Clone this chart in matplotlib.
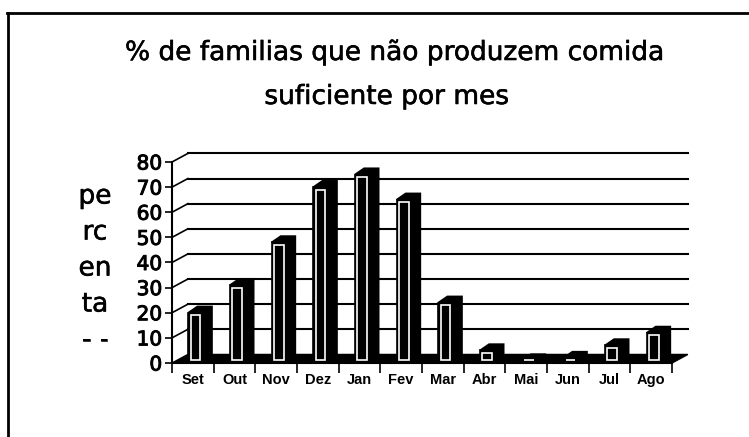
import numpy as np
import matplotlib.pyplot as plt
import matplotlib.patheffects as pe
from matplotlib.patches import Polygon
from matplotlib.lines import Line2D

plt.rcParams.update({
    "font.family": "DejaVu Sans",
    "text.color": "black",
})

# ── Data ──────────────────────────────────────────────────────────────────────
months = ["Set", "Out", "Nov", "Dez", "Jan", "Fev", "Mar", "Abr", "Mai", "Jun", "Jul", "Ago"]
percent = [20, 31, 48, 70, 75, 65, 24, 5, 1, 2, 7, 12]
yticks = [0, 10, 20, 30, 40, 50, 60, 70, 80]
title_lines = ["% de familias que não produzem comida", "suficiente por mes"]
ylabel_text = "pe\nrc\nen\nta\n- -"

# slight stroke to mimic the heavier scanned type
THICK = [pe.withStroke(linewidth=0.4, foreground="black")]

# ── Figure / axes ─────────────────────────────────────────────────────────────
W, H = 749, 437
fig = plt.figure(figsize=(W / 100, H / 100), dpi=100, facecolor="white")
ax = fig.add_axes([172 / W, (H - 363) / H, 500 / W, 201 / H])
ax.set_facecolor("none")
n = len(months)
ax.set_xlim(0, n)
ax.set_ylim(0, yticks[-1])

DX, DY = 0.38, 3.4     # back wall offset (data units)
BDX, BDY = 0.22, 2.5   # bar depth
BW = 0.35              # bar front width
x = np.arange(n)
x0 = x + 0.39
vals = np.array(percent, dtype=float)

# back wall gridlines + left wall slants
for v in yticks[1:]:
    ax.plot([DX, n + DX], [v + DY, v + DY], color="black", lw=1.5,
            clip_on=False, zorder=1)
    ax.plot([0, DX], [v, v + DY], color="black", lw=1.2,
            clip_on=False, zorder=1)

# floor
ax.add_patch(Polygon([(0, 0), (n, 0), (n + DX, DY), (DX, DY)], closed=True,
                     fc="black", ec="black", lw=1, clip_on=False, zorder=2))

# bar top + side faces
for xi, v in zip(x0, vals):
    ax.add_patch(Polygon([(xi, v), (xi + BDX, v + BDY), (xi + BW + BDX, v + BDY),
                          (xi + BW + BDX, BDY), (xi + BW, 0), (xi + BW, v)],
                         closed=True, fc="black", ec="black", lw=1.2,
                         clip_on=False, zorder=3))

# bar front faces
ax.bar(x0, vals, width=BW, align="edge", color="black", edgecolor="black",
       lw=1.2, zorder=4, clip_on=False)
ix, iy = 0.06, 1.0
ax.bar(x0 + ix, np.maximum(vals - 2 * iy, 0), bottom=iy, width=BW - 2 * ix,
       align="edge", fill=False, edgecolor="white", lw=1.2, zorder=5,
       clip_on=False)

# ── Axes formatting ───────────────────────────────────────────────────────────
ax.spines["top"].set_visible(False)
ax.spines["right"].set_visible(False)
ax.spines["left"].set_bounds(0, yticks[-1])
ax.spines["left"].set_linewidth(1.5)
ax.spines["bottom"].set_linewidth(1.5)

ax.set_yticks(yticks)
ax.tick_params(axis="y", length=5, width=1.2, labelsize=14.5, pad=2)
for lab in ax.get_yticklabels():
    lab.set_path_effects([pe.withStroke(linewidth=0.7, foreground="black")])

ax.set_xticks(np.arange(n + 1))
ax.set_xticklabels([])
ax.set_xticks(x + 0.5, minor=True)
ax.set_xticklabels(months, minor=True, fontsize=10.5, fontweight="bold",
                   family="Liberation Sans")
ax.tick_params(axis="x", which="major", length=7, width=1.2, direction="out")
ax.tick_params(axis="x", which="minor", length=0, pad=7)

ax.set_ylabel(ylabel_text, rotation=0, fontsize=19, linespacing=1.5,
              ha="center", va="center", path_effects=THICK)
ax.yaxis.set_label_coords(-0.154, 0.47)

# ── Title ─────────────────────────────────────────────────────────────────────
fig.text(395 / W, 1 - 60 / H, title_lines[0], ha="center", va="baseline",
         fontsize=19, path_effects=THICK)
fig.text(387 / W, 1 - 104 / H, title_lines[1], ha="center", va="baseline",
         fontsize=19, path_effects=THICK)

# ── Chart frame ───────────────────────────────────────────────────────────────
fig.add_artist(Line2D([7 / W, 1], [1 - 13 / H, 1 - 13 / H],
                      transform=fig.transFigure, color="black", lw=2))
fig.add_artist(Line2D([8 / W, 8 / W], [0, 1 - 13 / H],
                      transform=fig.transFigure, color="black", lw=2))

fig.savefig("out.png", dpi=100, facecolor="white")
